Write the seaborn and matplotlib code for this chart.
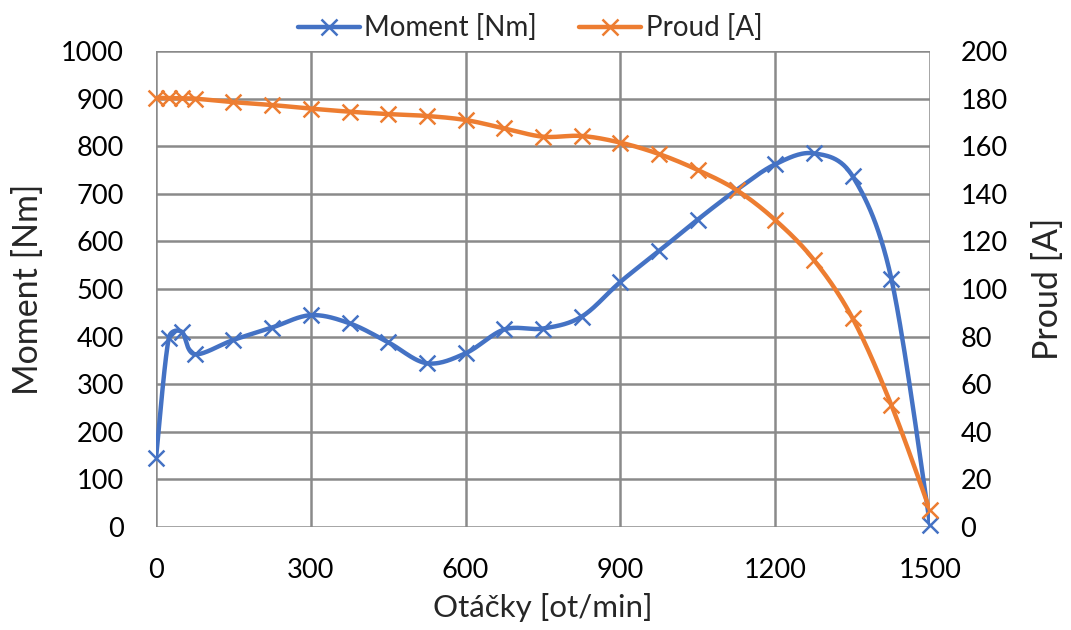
import numpy as np
import pandas as pd
import matplotlib
matplotlib.use("Agg")
import matplotlib.pyplot as plt
from matplotlib.lines import Line2D
import seaborn as sns

# ---- data ----
rpm = [0, 25, 50, 75, 150, 225, 300, 375, 450, 525, 600, 675, 750, 825,
       900, 975, 1050, 1125, 1200, 1275, 1350, 1425, 1500]
moment = [145, 398, 410, 363, 393, 419, 445, 428, 388, 344, 365, 415, 417, 442,
          515, 580, 646, 708, 762, 785, 737, 522, 5]
proud = [180.3, 180.2, 180.1, 180.0, 178.5, 177.3, 175.8, 174.5, 173.5, 172.7,
         171.0, 167.5, 164.0, 164.3, 161.5, 156.7, 150.0, 141.6, 129.0, 112.2,
         87.7, 51.3, 7.0]
x_ticks = [0, 300, 600, 900, 1200, 1500]
left_ticks = list(range(0, 1001, 100))
right_ticks = list(range(0, 201, 20))

BLUE = "#4472C4"
ORANGE = "#ED7D31"
GRID = "#8a8a8a"
FS_TICK = 19.5
FS_LEG = 20
FS_XLAB = 22.5
FS_YLAB = 24.5

sns.set_theme(style="white")
plt.rcParams["font.family"] = ["Lato", "DejaVu Sans"]


def smooth(xs, ys, xspan, yspan, aspect=(774, 476), n=30):
    """Bezier smoothing like a spreadsheet 'smoothed line' (computed in screen space)."""
    P = np.column_stack([np.asarray(xs, float) / xspan * aspect[0],
                         np.asarray(ys, float) / yspan * aspect[1]])
    m = len(P)
    out = []
    t = np.linspace(0, 1, n)[:, None]

    def clamp(v, limit):
        L = np.hypot(*v)
        return v if L <= limit or L == 0 else v * (limit / L)

    for i in range(m - 1):
        p0 = P[max(i - 1, 0)]
        p1 = P[i]
        p2 = P[i + 1]
        p3 = P[min(i + 2, m - 1)]
        seglen = np.hypot(*(p2 - p1))
        b1 = p1 + clamp((p2 - p0) / 6.0, 0.5 * seglen)
        b2 = p2 - clamp((p3 - p1) / 6.0, 0.5 * seglen)
        seg = ((1 - t) ** 3) * p1 + 3 * ((1 - t) ** 2) * t * b1 + 3 * (1 - t) * t ** 2 * b2 + t ** 3 * p2
        out.append(seg if i == 0 else seg[1:])
    S = np.vstack(out)
    return S[:, 0] / aspect[0] * xspan, S[:, 1] / aspect[1] * yspan


fig = plt.figure(figsize=(10.71, 6.30), dpi=100)
ax = fig.add_axes([156 / 1071, 1 - 527 / 630, (930 - 156) / 1071, (527 - 51) / 630])
ax2 = ax.twinx()

mx, my = smooth(rpm, moment, 1500, 1000)
px, py = smooth(rpm, proud, 1500, 200)

sns.lineplot(x=mx, y=my, ax=ax, color=BLUE, linewidth=3.2, sort=False, estimator=None, zorder=3)
sns.scatterplot(x=rpm, y=moment, ax=ax, marker="x", s=130, color=BLUE, linewidth=1.8, zorder=4, clip_on=False)
sns.lineplot(x=px, y=py, ax=ax2, color=ORANGE, linewidth=3.2, sort=False, estimator=None, zorder=3)
sns.scatterplot(x=rpm, y=proud, ax=ax2, marker="x", s=130, color=ORANGE, linewidth=1.8, zorder=4, clip_on=False)

ax.set_xlim(0, 1500)
ax.set_ylim(0, 1000)
ax2.set_ylim(0, 200)
ax.set_xticks(x_ticks)
ax.set_yticks(left_ticks)
ax2.set_yticks(right_ticks)
ax.set_xticklabels([str(v) for v in x_ticks])
ax.set_yticklabels([str(v) for v in left_ticks])
ax2.set_yticklabels([str(v) for v in right_ticks])

ax.grid(True, color=GRID, linewidth=1.8)
ax2.grid(False)
for a in (ax, ax2):
    for s in a.spines.values():
        s.set_visible(False)
ax.set_axisbelow(True)
ax2.set_zorder(ax.get_zorder() + 1)
ax2.patch.set_visible(False)

ax.tick_params(axis="both", length=0, labelsize=FS_TICK, colors="black")
ax.tick_params(axis="y", pad=23)
ax.tick_params(axis="x", pad=22)
ax2.tick_params(axis="y", length=0, labelsize=FS_TICK, colors="black", pad=22)

ax.set_xlabel("Otáčky [ot/min]", fontsize=FS_XLAB)
ax.set_ylabel("Moment [Nm]", fontsize=FS_YLAB)
ax2.set_ylabel("Proud [A]", fontsize=FS_YLAB)
ax.xaxis.set_label_coords(0.5, (527 - 608) / 476)
ax.xaxis.label.set_va("center")
ax.yaxis.set_label_coords((28 - 156) / 774, 0.5)
ax.yaxis.label.set_va("center")
ax2.yaxis.set_label_coords((1048 - 156) / 774, 0.5)
ax2.yaxis.label.set_va("center")

handles = [
    Line2D([], [], color=BLUE, linewidth=3.2, marker="x", markersize=11, markeredgewidth=1.8),
    Line2D([], [], color=ORANGE, linewidth=3.2, marker="x", markersize=11, markeredgewidth=1.8),
]
fig.legend(handles, ["Moment [Nm]", "Proud [A]"], loc="center", bbox_to_anchor=(530 / 1071, 1 - 28 / 630),
           ncol=2, frameon=False, fontsize=FS_LEG, handlelength=2.25, handletextpad=0.15, columnspacing=1.5,
           borderaxespad=0)

fig.savefig("out.png", dpi=100)
